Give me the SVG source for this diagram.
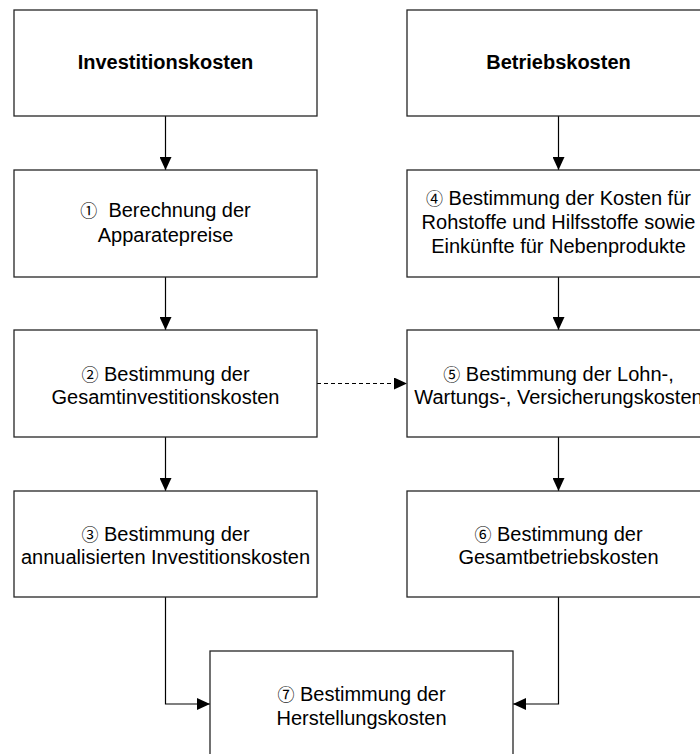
<svg xmlns="http://www.w3.org/2000/svg" width="700" height="754" viewBox="0 0 700 754">
<defs>
<style>
.box{fill:#fff;stroke:#262626;stroke-width:1.3}
.t{font-family:"Liberation Sans",Arial,"Noto Sans CJK SC",sans-serif;font-size:20px;fill:#000;text-anchor:middle}
.b{font-weight:bold}
.n{font-size:17px}
.c{fill:none;stroke:#000;stroke-width:1.2}
.d{stroke-dasharray:4 3}
</style>
<marker id="ah" markerUnits="userSpaceOnUse" markerWidth="13" markerHeight="12" refX="13" refY="6" orient="auto">
<path d="M0,0 L13,6 L0,12 z" fill="#000"/>
</marker>
</defs>
<rect width="700" height="754" fill="#fff"/>
<g id="connectors">
<path class="c" d="M165.5,116 V170" marker-end="url(#ah)"/>
<path class="c" d="M165.5,277 V330" marker-end="url(#ah)"/>
<path class="c" d="M165.5,437 V491" marker-end="url(#ah)"/>
<path class="c" d="M558.5,116 V170" marker-end="url(#ah)"/>
<path class="c" d="M558.5,277 V330" marker-end="url(#ah)"/>
<path class="c" d="M558.5,437 V491" marker-end="url(#ah)"/>
<path class="c d" d="M317,383.5 H407" marker-end="url(#ah)"/>
<path class="c" d="M165.5,597 V704 H210" marker-end="url(#ah)"/>
<path class="c" d="M558.5,597 V704 H513" marker-end="url(#ah)"/>
</g>
<g id="n_invest">
<rect class="box" x="14" y="10" width="303" height="106"/>
<text class="t b" x="165.5" y="69">Investitionskosten</text>
</g>
<g id="n_betrieb">
<rect class="box" x="407" y="10" width="303" height="106"/>
<text class="t b" x="558.5" y="69">Betriebskosten</text>
</g>
<g id="n1">
<rect class="box" x="14" y="170" width="303" height="107"/>
<text class="t" x="165.5" y="217" xml:space="preserve"><tspan class="n">①</tspan>  Berechnung der</text>
<text class="t" x="165.5" y="242">Apparatepreise</text>
</g>
<g id="n4">
<rect class="box" x="407" y="170" width="303" height="107"/>
<text class="t" x="558.5" y="205"><tspan class="n">④</tspan> Bestimmung der Kosten für</text>
<text class="t" x="558.5" y="229">Rohstoffe und Hilfsstoffe sowie</text>
<text class="t" x="558.5" y="253">Einkünfte für Nebenprodukte</text>
</g>
<g id="n2">
<rect class="box" x="14" y="330" width="303" height="107"/>
<text class="t" x="165.5" y="381"><tspan class="n">②</tspan> Bestimmung der</text>
<text class="t" x="165.5" y="404">Gesamtinvestitionskosten</text>
</g>
<g id="n5">
<rect class="box" x="407" y="330" width="303" height="107"/>
<text class="t" x="558.5" y="381"><tspan class="n">⑤</tspan> Bestimmung der Lohn-,</text>
<text class="t" x="558.5" y="404">Wartungs-, Versicherungskosten</text>
</g>
<g id="n3">
<rect class="box" x="14" y="491" width="303" height="106"/>
<text class="t" x="165.5" y="541"><tspan class="n">③</tspan> Bestimmung der</text>
<text class="t" x="165.5" y="564">annualisierten Investitionskosten</text>
</g>
<g id="n6">
<rect class="box" x="407" y="491" width="303" height="106"/>
<text class="t" x="558.5" y="541"><tspan class="n">⑥</tspan> Bestimmung der</text>
<text class="t" x="558.5" y="564">Gesamtbetriebskosten</text>
</g>
<g id="n7">
<rect class="box" x="210" y="651" width="303" height="107"/>
<text class="t" x="361.5" y="701"><tspan class="n">⑦</tspan> Bestimmung der</text>
<text class="t" x="361.5" y="725">Herstellungskosten</text>
</g>
</svg>
